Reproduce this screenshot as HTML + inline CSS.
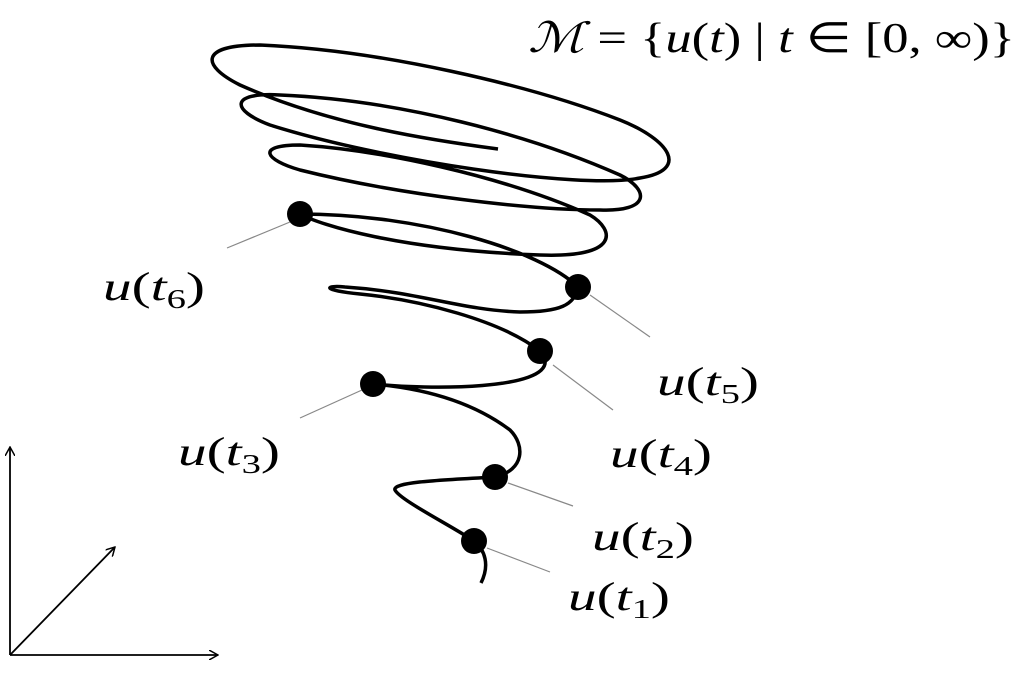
<!DOCTYPE html>
<html><head><meta charset="utf-8"><style>
html,body{margin:0;padding:0;background:#fff;}
svg{display:block;}
text{font-family:"Liberation Serif",serif;fill:#000;}
</style></head><body>
<svg width="1022" height="698" viewBox="0 0 1022 698" xmlns="http://www.w3.org/2000/svg">
<defs><marker id="ah" viewBox="0 0 10 10" refX="9" refY="5" markerWidth="10" markerHeight="10" orient="auto" markerUnits="userSpaceOnUse"><path d="M0,0 L9,5 L0,10" fill="none" stroke="#000" stroke-width="1.5"/></marker></defs>
<path d="M481,583 C490,565 485,550 474,541 C450,525 400,500 395,490 C392,482 440,480 495,477 C525,470 525,445 510,430 C470,400 420,388 373,384 C430,390 550,390 545,360 L540,351 C500,320 420,300 360,294 C320,290 325,285 345,287 C420,292 460,310 520,312 C560,312 575,305 578,287 C540,250 420,214 300,214 C320,225 400,250 540,255 C620,258 615,230 590,215 C500,175 380,150 300,145 C255,145 265,160 300,170 C400,195 530,210 600,210 C650,212 650,190 620,175 C530,135 400,100 280,95 C230,92 230,110 270,125 C380,160 580,190 640,178 C690,170 670,140 620,120 C530,85 380,50 260,45 C200,45 200,65 240,85 C330,125 430,140 498,149" fill="none" stroke="#000" stroke-width="3.5"/>
<g stroke="#888" stroke-width="1.2">
<line x1="290" y1="222" x2="227" y2="248"/>
<line x1="590" y1="295" x2="650" y2="337"/>
<line x1="553" y1="365" x2="613" y2="410"/>
<line x1="362" y1="390" x2="300" y2="418"/>
<line x1="508" y1="483" x2="573" y2="506"/>
<line x1="487" y1="548" x2="550" y2="572"/>
</g>
<g fill="#000">
<circle cx="300" cy="214" r="13"/>
<circle cx="578" cy="287" r="13"/>
<circle cx="540" cy="351" r="13"/>
<circle cx="373" cy="384" r="13"/>
<circle cx="495" cy="477" r="13"/>
<circle cx="474" cy="541" r="13"/>
</g>
<g stroke="#000" stroke-width="1.8" fill="none">
<line x1="10" y1="655" x2="10" y2="447" marker-end="url(#ah)"/>
<line x1="10" y1="655" x2="218" y2="655" marker-end="url(#ah)"/>
<line x1="10" y1="655" x2="115" y2="547" marker-end="url(#ah)"/>
</g>
<g font-size="40">
<text x="103" y="300" textLength="102" lengthAdjust="spacingAndGlyphs"><tspan font-style="italic">u</tspan>(<tspan font-style="italic">t</tspan><tspan font-size="27" dy="8">6</tspan><tspan dy="-8">)</tspan></text>
<text x="657" y="395" textLength="102" lengthAdjust="spacingAndGlyphs"><tspan font-style="italic">u</tspan>(<tspan font-style="italic">t</tspan><tspan font-size="27" dy="8">5</tspan><tspan dy="-8">)</tspan></text>
<text x="610" y="467" textLength="102" lengthAdjust="spacingAndGlyphs"><tspan font-style="italic">u</tspan>(<tspan font-style="italic">t</tspan><tspan font-size="27" dy="8">4</tspan><tspan dy="-8">)</tspan></text>
<text x="178" y="465" textLength="102" lengthAdjust="spacingAndGlyphs"><tspan font-style="italic">u</tspan>(<tspan font-style="italic">t</tspan><tspan font-size="27" dy="8">3</tspan><tspan dy="-8">)</tspan></text>
<text x="592" y="550" textLength="102" lengthAdjust="spacingAndGlyphs"><tspan font-style="italic">u</tspan>(<tspan font-style="italic">t</tspan><tspan font-size="27" dy="8">2</tspan><tspan dy="-8">)</tspan></text>
<text x="568" y="610" textLength="102" lengthAdjust="spacingAndGlyphs"><tspan font-style="italic">u</tspan>(<tspan font-style="italic">t</tspan><tspan font-size="27" dy="8">1</tspan><tspan dy="-8">)</tspan></text>
</g>
<text x="528" y="52" font-size="42" textLength="487" lengthAdjust="spacingAndGlyphs"><tspan font-style="italic">ℳ</tspan> = {<tspan font-style="italic">u</tspan>(<tspan font-style="italic">t</tspan>) | <tspan font-style="italic">t</tspan> ∈ [0, ∞)}</text>
</svg>
</body></html>
